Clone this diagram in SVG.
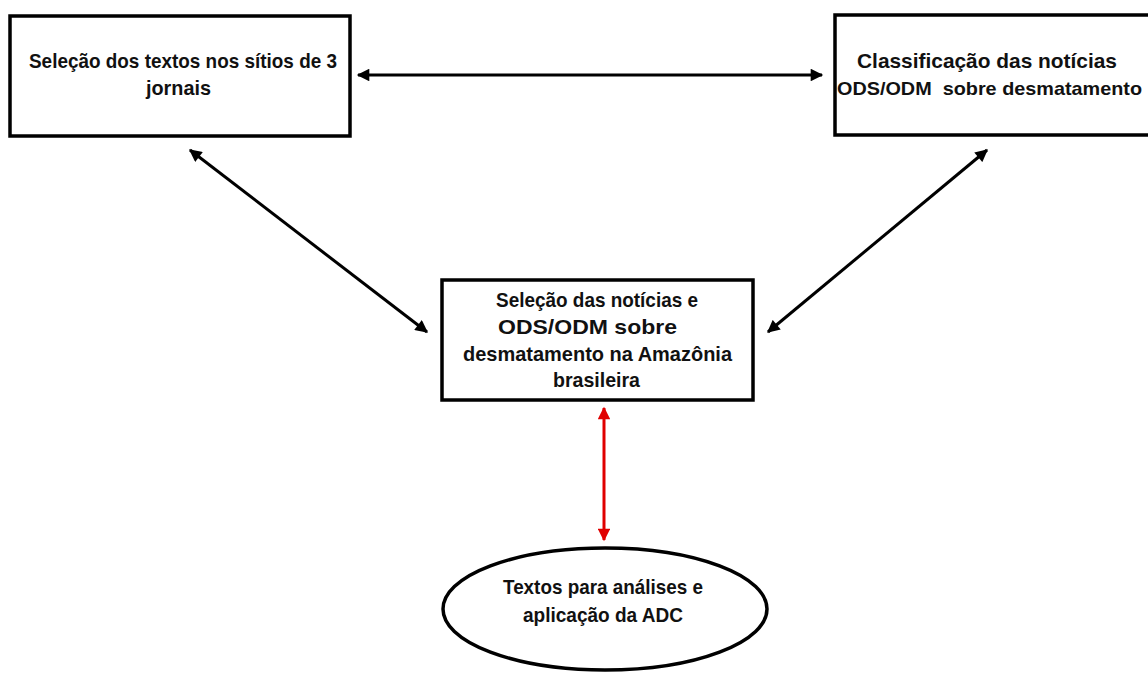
<svg xmlns="http://www.w3.org/2000/svg" width="1148" height="673" viewBox="0 0 1148 673">
<style>
.box{fill:#fff;stroke:#000;stroke-width:3.5}
.t{font-family:"Liberation Sans",Arial,sans-serif;font-weight:bold;font-size:21px;fill:#111}
.c{fill:none;stroke:#000;stroke-width:3}
.r{fill:none;stroke:#e00000;stroke-width:3}
</style>
<defs>
<marker id="ah" viewBox="0 0 10 10" refX="9" refY="5" markerWidth="4.6" markerHeight="4.2" orient="auto-start-reverse" markerUnits="strokeWidth">
<path d="M0,0 L10,5 L0,10 z" fill="#000"/>
</marker>
<marker id="ahr" viewBox="0 0 10 10" refX="9" refY="5" markerWidth="4.6" markerHeight="4.2" orient="auto-start-reverse" markerUnits="strokeWidth">
<path d="M0,0 L10,5 L0,10 z" fill="#e00000"/>
</marker>
</defs>
<rect width="1148" height="673" fill="#fff"/>
<g id="connectors">
<line class="c" x1="358" y1="75" x2="822" y2="75" marker-start="url(#ah)" marker-end="url(#ah)"/>
<line class="c" x1="190" y1="150" x2="427" y2="332" marker-start="url(#ah)" marker-end="url(#ah)"/>
<line class="c" x1="987" y1="150" x2="768" y2="332" marker-start="url(#ah)" marker-end="url(#ah)"/>
<line class="r" x1="604" y1="408" x2="604" y2="540" marker-start="url(#ahr)" marker-end="url(#ahr)"/>
</g>
<g id="node1">
<rect class="box" x="10" y="16" width="340" height="120"/>
<text class="t" x="29" y="68" textLength="308" lengthAdjust="spacingAndGlyphs">Seleção dos textos nos sítios de 3</text>
<text class="t" x="146" y="95" textLength="65" lengthAdjust="spacingAndGlyphs">jornais</text>
</g>
<g id="node2">
<rect class="box" x="835" y="15" width="330" height="120"/>
<text class="t" x="857" y="68" textLength="260" lengthAdjust="spacingAndGlyphs">Classificação das notícias</text>
<text class="t" x="837" y="95" style="font-size:19px" textLength="305" lengthAdjust="spacingAndGlyphs" xml:space="preserve">ODS/ODM  sobre desmatamento</text>
</g>
<g id="node3">
<rect class="box" x="442" y="280" width="311" height="120"/>
<text class="t" x="496" y="307" textLength="202" lengthAdjust="spacingAndGlyphs">Seleção das notícias e</text>
<text class="t" x="498" y="334" textLength="179" lengthAdjust="spacingAndGlyphs">ODS/ODM sobre</text>
<text class="t" x="463" y="361" textLength="269" lengthAdjust="spacingAndGlyphs">desmatamento na Amazônia</text>
<text class="t" x="553" y="387" textLength="87" lengthAdjust="spacingAndGlyphs">brasileira</text>
</g>
<g id="node4">
<ellipse class="box" cx="605" cy="609" rx="162" ry="61"/>
<text class="t" x="503" y="594" textLength="200" lengthAdjust="spacingAndGlyphs">Textos para análises e</text>
<text class="t" x="523" y="622" textLength="160" lengthAdjust="spacingAndGlyphs">aplicação da ADC</text>
</g>
</svg>
